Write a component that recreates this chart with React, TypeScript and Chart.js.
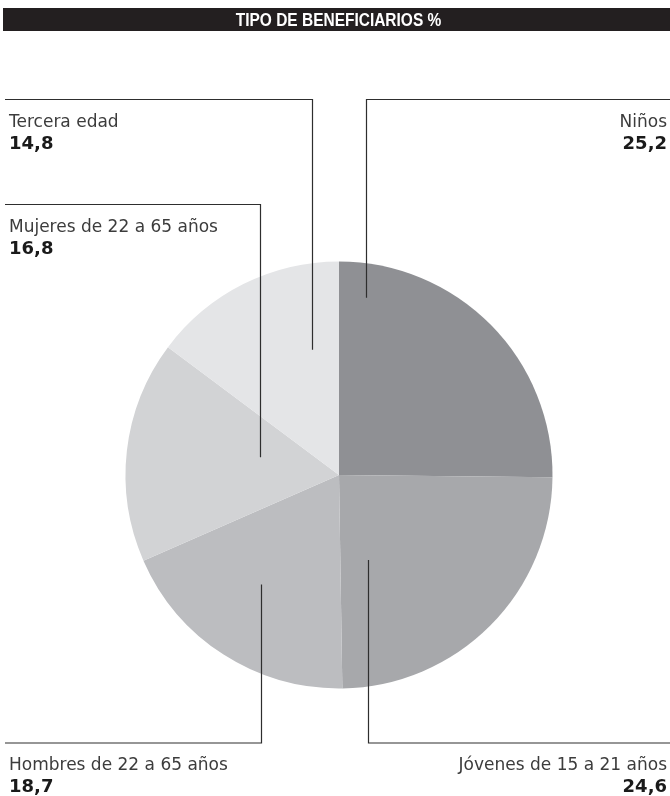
import React, { useEffect, useRef } from "react";
import { Chart, registerables } from "chart.js";

Chart.register(...registerables);

const TITLE = "TIPO DE BENEFICIARIOS %";
const categories = ["Niños", "Jóvenes de 15 a 21 años", "Hombres de 22 a 65 años", "Mujeres de 22 a 65 años", "Tercera edad"];
const values = [25.2, 24.6, 18.7, 16.8, 14.8];
const valueLabels = ["25,2", "24,6", "18,7", "16,8", "14,8"];
const colors = ["#8f9094", "#a7a8ab", "#bcbdc0", "#d2d3d5", "#e4e5e7"];

// leader-line styling: anchor inside slice (fraction of slice angle, fraction of radius), label side
const leaders = [
  { af: 0.096, rf: 0.84, side: "right", lineY: 99.5 },
  { af: 0.8, rf: 0.42, side: "right", lineY: 743 },
  { af: 0.54, rf: 0.63, side: "left", lineY: 743 },
  { af: 0.6, rf: 0.38, side: "left", lineY: 204.5 },
  { af: 0.77, rf: 0.6, side: "left", lineY: 99.5 },
];

const W = 670;
const H = 796;

const overlayPlugin = {
  id: "overlay",
  afterDraw(chart: any) {
    const ctx = chart.ctx;
    // title bar
    ctx.save();
    ctx.fillStyle = "#231f20";
    ctx.fillRect(3, 8, W - 3, 23);
    ctx.fillStyle = "#ffffff";
    ctx.font = "bold 18px 'Liberation Sans', Arial, sans-serif";
    ctx.textAlign = "center";
    ctx.textBaseline = "alphabetic";
    ctx.translate(338.5, 26);
    ctx.scale(0.86, 1);
    ctx.fillText(TITLE, 0, 0);
    ctx.restore();

    const meta = chart.getDatasetMeta(0);
    meta.data.forEach((arc: any, i: number) => {
      const L = leaders[i];
      const a = arc.startAngle + (arc.endAngle - arc.startAngle) * L.af;
      const r = arc.outerRadius * L.rf;
      const px = arc.x + r * Math.cos(a);
      const py = arc.y + r * Math.sin(a);
      const endX = L.side === "right" ? W : 5;
      ctx.save();
      ctx.strokeStyle = "#2e2e2e";
      ctx.lineWidth = 1.2;
      ctx.beginPath();
      ctx.moveTo(Math.round(px) + 0.5, py);
      ctx.lineTo(Math.round(px) + 0.5, L.lineY);
      ctx.lineTo(endX, L.lineY);
      ctx.stroke();

      const tx = L.side === "right" ? 667 : 9;
      ctx.textAlign = L.side === "right" ? "right" : "left";
      ctx.textBaseline = "alphabetic";
      ctx.fillStyle = "#3c3c3c";
      ctx.font = "17px 'DejaVu Sans', sans-serif";
      ctx.fillText(categories[i], tx, L.lineY + 27);
      ctx.fillStyle = "#1a1a1a";
      ctx.font = "bold 18px 'DejaVu Sans', sans-serif";
      ctx.fillText(valueLabels[i], tx, L.lineY + 49);
      ctx.restore();
    });
  },
};

export default function App() {
  const ref = useRef<HTMLCanvasElement>(null);
  useEffect(() => {
    document.body.style.margin = "0";
    const chart = new Chart(ref.current as HTMLCanvasElement, {
      type: "pie",
      data: {
        labels: categories,
        datasets: [
          {
            data: values,
            backgroundColor: colors,
            borderWidth: 0,
          },
        ],
      },
      options: {
        responsive: false,
        animation: false,
        layout: { padding: { left: 125.5, right: 117.5, top: 261.5, bottom: 107.5 } },
        plugins: {
          legend: { display: false },
          tooltip: { enabled: false },
          title: { display: false },
        },
      },
      plugins: [overlayPlugin],
    });
    return () => chart.destroy();
  }, []);
  return (
    <div style={{ width: W, height: H, background: "#ffffff" }}>
      <canvas ref={ref} width={W} height={H} style={{ display: "block" }} />
    </div>
  );
}
